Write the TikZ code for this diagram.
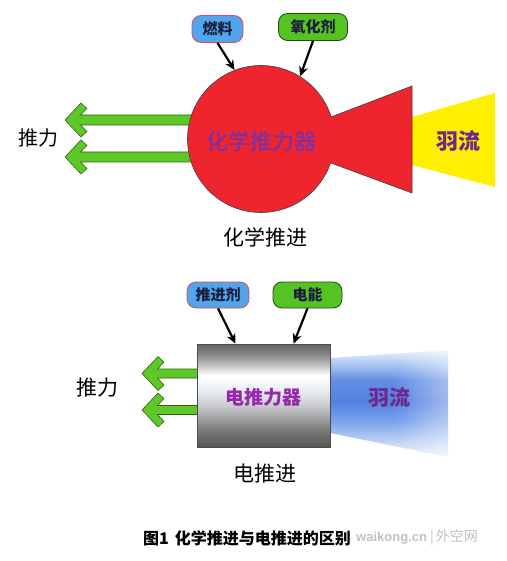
\documentclass[tikz,border=0pt]{standalone}
\usepackage{fontspec}
\newfontfamily\cjk{Noto Sans CJK SC}
\newfontfamily\cjkmed[FakeBold=0.6]{Noto Sans CJK SC}
\newfontfamily\latinwm{Liberation Sans}
\usetikzlibrary{arrows.meta,fadings}
\definecolor{rocketred}{RGB}{238,36,46}
\definecolor{plumeyellow}{RGB}{255,240,0}
\definecolor{arrowgreen}{RGB}{94,200,40}
\definecolor{arrowdark}{RGB}{45,100,20}
\definecolor{bubbleblue}{RGB}{80,165,235}
\definecolor{bubblepink}{RGB}{225,70,100}
\definecolor{bubblegreen}{RGB}{85,195,35}
\definecolor{bubbledark}{RGB}{35,75,15}
\definecolor{purpleA}{RGB}{120,50,165}
\definecolor{purpleB}{RGB}{150,40,170}
\definecolor{purpleC}{RGB}{110,40,140}
\definecolor{bubbletext}{RGB}{25,30,60}
\definecolor{gA}{RGB}{88,88,88}
\definecolor{gB}{RGB}{120,120,120}
\definecolor{gC}{RGB}{200,202,205}
\definecolor{gD}{RGB}{235,240,245}
\definecolor{gE}{RGB}{190,190,192}
\definecolor{gF}{RGB}{135,135,135}
\definecolor{gG}{RGB}{100,100,100}
\pgfdeclareverticalshading{greybox}{100bp}{color(0bp)=(gA); color(25bp)=(gA); color(33bp)=(gB); color(45bp)=(gC); color(53bp)=(gD); color(60bp)=(white); color(65bp)=(gE); color(70bp)=(gF); color(75bp)=(gG); color(100bp)=(gG)}
\definecolor{bA}{RGB}{235,242,252}
\definecolor{bB}{RGB}{185,208,245}
\definecolor{bC}{RGB}{120,160,235}
\definecolor{bD}{RGB}{85,130,225}
\definecolor{bE}{RGB}{100,142,228}
\definecolor{bF}{RGB}{165,195,242}
\definecolor{bG}{RGB}{232,242,252}
\pgfdeclareverticalshading{blueplume}{100bp}{color(0bp)=(bA); color(25bp)=(bA); color(33bp)=(bB); color(42bp)=(bC); color(51bp)=(bD); color(61bp)=(bE); color(68bp)=(bF); color(75bp)=(bG); color(100bp)=(bG)}
\tikzset{
  thrust/.style={fill=arrowgreen, draw=arrowdark, line width=0.6pt, line join=miter},
  feed/.style={draw=black, line width=2.2pt, -{Stealth[length=10pt,width=9pt]}},
  bubbleA/.style={draw=bubblepink, fill=bubbleblue, rounded corners=9pt, minimum height=27pt, inner sep=0pt, line width=0.8pt, text=bubbletext, font=\cjk\bfseries\fontsize{15}{18}\selectfont},
  bubbleB/.style={bubbleA, draw=bubbledark, fill=bubblegreen},
  lblblack/.style={text=black, inner sep=0pt, font=\cjk\fontsize{20}{24}\selectfont},
  capblack/.style={text=black, inner sep=0pt, font=\cjk\fontsize{21}{25}\selectfont},
  lblpurple/.style={text=purpleA, inner sep=0pt, font=\cjkmed\fontsize{22}{26}\selectfont},
  lblplume/.style={text=purpleC, inner sep=0pt, font=\cjk\bfseries\fontsize{22}{26}\selectfont},
}
\newcommand\thrustarrow[4]{%
  \begin{scope}[shift={(#1,#2)}]
    \filldraw[thrust] (0,0) -- (16,-17) -- (22,-11.5) -- (15.5,-#4) -- (#3,-#4) -- (#3,#4) -- (15.5,#4) -- (22,11.5) -- (16,17) -- cycle;
  \end{scope}}
\begin{document}
\begin{tikzpicture}[x=1pt,y=-1pt]
\useasboundingbox[fill=white] (0,0) rectangle (506,561);

% ---------- chemical propulsion ----------
\thrustarrow{65}{120}{128}{5}
\thrustarrow{65}{157}{128}{5}
\node[circle, minimum size=147pt, inner sep=0pt, fill=rocketred, draw=black!75, line width=0.6pt] (chem) at (261,139) {};
\fill[plumeyellow] (412,117) -- (495,93) -- (495,187) -- (412,165) -- cycle;
\fill[rocketred] (318,117) -- (331,117) -- (412,86) -- (412,193) -- (331,163) -- (318,163) -- cycle;
\draw[black!75, line width=0.6pt] (331,117) -- (412,86) -- (412,193) -- (331,163);

\node[bubbleA, minimum width=51pt] (fuel) at (217.5,29) {燃料};
\node[bubbleB, minimum width=69pt] (oxid) at (313,27) {氧化剂};
\draw[feed] (fuel.south) -- (chem.111);
\draw[feed] (oxid.south) -- (chem.58);

\node[lblblack] (thrustA) at (38,138) {推力};
\node[lblpurple] (chemlabel) at (261,141) {化学推力器};
\node[lblplume] (plumeA) at (458,141) {羽流};
\node[capblack] (chemcap) at (265,237) {化学推进};

% ---------- electric propulsion ----------
\thrustarrow{142}{373.5}{56}{4.5}
\thrustarrow{142}{410}{56}{4.5}
\shade[shading=blueplume] (330,358) -- (448,350) -- (448,457) -- (330,433) -- cycle;
\fill[white, opacity=0.45, path fading=west] (395,345) rectangle (449,462);
\node[shade, shading=greybox, draw=black!70, line width=0.6pt, minimum width=133pt, minimum height=103pt, inner sep=0pt] (elec) at (263.5,395.5) {};

\node[bubbleA, minimum width=62pt, minimum height=26pt] (prop) at (218,295) {推进剂};
\node[bubbleB, minimum width=69pt, minimum height=26pt] (power) at (307.5,295) {电能};
\draw[feed] (prop.south) -- ([xshift=-28pt]elec.north);
\draw[feed] (power.south) -- ([xshift=30pt]elec.north);

\node[lblblack, font=\cjk\fontsize{21}{25}\selectfont] (thrustB) at (97,388) {推力};
\node[lblpurple, text=purpleB, font=\cjk\bfseries\fontsize{19}{23}\selectfont] (eleclabel) at (263,397) {电推力器};
\node[lblplume, font=\cjk\bfseries\fontsize{21}{25}\selectfont] (plumeB) at (389,397) {羽流};
\node[capblack] (eleccap) at (265,474) {电推进};

% ---------- caption ----------
\node[anchor=west, inner sep=0pt, font=\cjk\bfseries\fontsize{16}{19}\selectfont] (caption) at (143,538) {图1\hspace{6pt}化学推进与电推进的区别};
\node[anchor=east, inner sep=0pt, text=black!30, opacity=0.8] (watermark) at (478,538) {{\latinwm\bfseries\fontsize{13}{16}\selectfont waikong.cn}\hspace{3pt}{\cjk\fontsize{14}{17}\selectfont |\hspace{2pt}外空网}};
\end{tikzpicture}
\end{document}
